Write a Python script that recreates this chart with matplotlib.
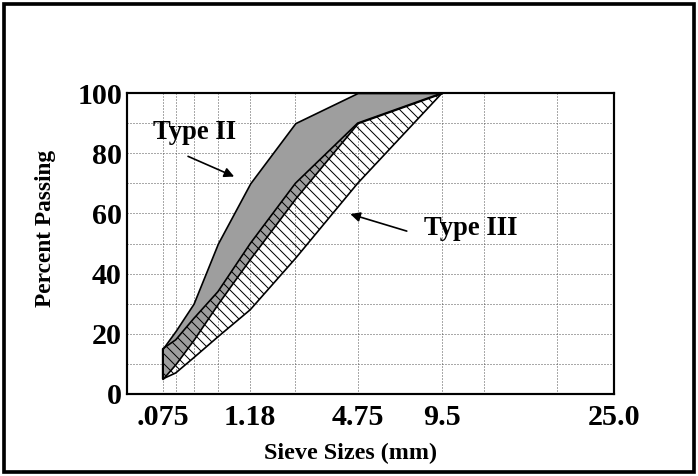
import numpy as np
import matplotlib
matplotlib.use("Agg")
import matplotlib.pyplot as plt
from matplotlib.patches import Rectangle

# ---- data ----
sieves = [0.075, 0.15, 0.3, 0.6, 1.18, 2.36, 4.75, 9.5]
type2_upper = [15, 21, 30, 50, 70, 90, 100, 100]
type2_lower = [5, 10, 18, 30, 45, 65, 90, 100]
type3_upper = [15, 18, 25, 34, 50, 70, 90, 100]
type3_lower = [5, 7, 12, 19, 28, 45, 70, 100]

xtick_vals = [0.075, 1.18, 4.75, 9.5, 25.0]
xtick_labels = [".075", "1.18", "4.75", "9.5", "25.0"]
xgrid_vals = [0.075, 0.15, 0.3, 0.6, 1.18, 2.36, 4.75, 9.5, 12.5, 19.0]
ytick_vals = [0, 20, 40, 60, 80, 100]
ygrid_vals = [10, 20, 30, 40, 50, 60, 70, 80, 90]

plt.rcParams['hatch.linewidth'] = 0.6
serif = ['Liberation Serif', 'DejaVu Serif']

DPI = 120
fig = plt.figure(figsize=(698 / DPI, 476 / DPI), dpi=DPI)
ax = fig.add_axes([127 / 698, 1 - 394 / 476, (614 - 127) / 698, (394 - 93) / 476])

def fwd(x):
    return np.power(np.clip(x, 0, None), 0.45)

def inv(x):
    return np.power(np.clip(x, 0, None), 1 / 0.45)

ax.set_xscale('function', functions=(fwd, inv))
ax.set_xlim(0, 25)
ax.set_ylim(0, 100)

# grid
for xv in xgrid_vals:
    ax.axvline(xv, color='#555555', lw=0.6, ls=(0, (1, 2)), zorder=0)
for yv in ygrid_vals:
    ax.axhline(yv, color='#555555', lw=0.6, ls=(0, (1, 2)), zorder=0)

# bands
ax.fill_between(sieves, type2_lower, type2_upper, facecolor='#9e9e9e',
                edgecolor='black', linewidth=1.0, zorder=2)
ax.fill_between(sieves, type3_lower, type3_upper, facecolor='none',
                edgecolor='black', hatch='\\\\\\\\', linewidth=1.0, zorder=3)

ax.set_xticks(xtick_vals)
ax.set_xticklabels(xtick_labels)
ax.set_yticks(ytick_vals)
ax.tick_params(axis='x', length=0, pad=6)
ax.tick_params(axis='y', length=0, pad=3)
for lab in ax.get_xticklabels() + ax.get_yticklabels():
    lab.set_family(serif)
    lab.set_fontweight('bold')
    lab.set_fontsize(18)

for sp in ax.spines.values():
    sp.set_linewidth(1.3)

ax.set_xlabel("Sieve Sizes (mm)", family=serif, fontweight='bold', fontsize=14.5)
ax.xaxis.set_label_coords((350 - 127) / 487, -0.162)
ax.set_ylabel("Percent Passing", family=serif, fontweight='bold', fontsize=14)
ax.yaxis.set_label_coords(-0.146, 0.55)

ax.annotate("", xy=(0.92, 71.8), xytext=(0.221, 79.4),
            arrowprops=dict(arrowstyle='-|>', color='black', lw=1.0, mutation_scale=12))
ax.text(0.3145, 87, "Type II", family=serif, fontweight='bold', fontsize=16,
        ha='center', va='center')

ax.annotate("", xy=(4.28, 60.1), xytext=(7.48, 53.8),
            arrowprops=dict(arrowstyle='-|>', color='black', lw=1.0, mutation_scale=12))
ax.text(11.55, 55.1, "Type III", family=serif, fontweight='bold', fontsize=16,
        ha='center', va='center')

fig.patches.append(Rectangle((4 / 698, 4 / 476), 690 / 698, 468 / 476,
                             transform=fig.transFigure, fill=False,
                             edgecolor='black', linewidth=2.2))

fig.savefig("out.png", dpi=DPI)
